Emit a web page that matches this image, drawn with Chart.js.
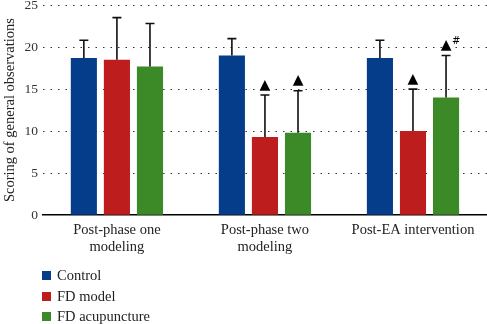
<!DOCTYPE html>
<html>
<head>
<meta charset="utf-8">
<script src="https://cdn.jsdelivr.net/npm/chart.js@4"></script>
<style>
  body { margin: 0; background: #fff; }
  #wrap { position: relative; width: 487px; height: 324px; }
  #legend { position: absolute; left: 42px; top: 265px; font: 14.5px "Liberation Serif", serif; color: #222; }
  #legend div { height: 20.5px; line-height: 20px; }
  #legend span { display: inline-block; width: 9px; height: 9px; margin-right: 6px; vertical-align: 0px; }
</style>
</head>
<body>
<div id="wrap">
  <canvas id="myChart" width="487" height="324"></canvas>
  <div id="legend"></div>
</div>
<script>
let categories = [["Post-phase one", "modeling"], ["Post-phase two", "modeling"], "Post-EA intervention"]
let seriesNames = ["Control", "FD model", "FD acupuncture"]
let colors = ["#063d8a", "#bd1d1d", "#3c8a27"]

let control = [18.7, 19.0, 18.7]
let controlSD = [2.1, 2.0, 2.1]
let fdModel = [18.5, 9.3, 10.0]
let fdModelSD = [5.0, 5.0, 5.0]
let fdAcu = [17.7, 9.8, 14.0]
let fdAcuSD = [5.1, 5.0, 5.0]

let marks = [["", "", ""], ["", "▲", "▲"], ["", "▲", "▲#"]]  // per dataset

const values = [control, fdModel, fdAcu]
const sds = [controlSD, fdModelSD, fdAcuSD]

// upper error bars plus significance marks
const errorBars = {
    id: "errorBars",
    afterDatasetsDraw(chart) {
        const ctx = chart.ctx;
        const y = chart.scales.y;
        ctx.save();
        chart.data.datasets.forEach((ds, i) => {
            const meta = chart.getDatasetMeta(i);
            meta.data.forEach((bar, j) => {
                const top = y.getPixelForValue(ds.data[j] + sds[i][j]);
                ctx.strokeStyle = "#111";
                ctx.lineWidth = 1.6;
                ctx.beginPath();
                ctx.moveTo(bar.x, bar.y);
                ctx.lineTo(bar.x, top);
                ctx.moveTo(bar.x - 4.5, top);
                ctx.lineTo(bar.x + 4.5, top);
                ctx.stroke();
                const m = marks[i][j];
                if (m) {
                    ctx.fillStyle = "#000";
                    ctx.font = "14px 'DejaVu Sans'";
                    ctx.textAlign = "center";
                    ctx.textBaseline = "bottom";
                    ctx.fillText("▲", bar.x, top - 3);
                    if (m.length > 1) {
                        ctx.font = "10px 'DejaVu Sans'";
                        ctx.textAlign = "left";
                        ctx.fillText(m.slice(1), bar.x + 6, top - 9);
                    }
                }
            });
        });
        ctx.restore();
    }
};

const data = {
    labels: categories,
    datasets: seriesNames.map((name, i) => ({
        label: name,
        data: values[i],
        backgroundColor: colors[i],
        categoryPercentage: 0.67,
        barPercentage: 0.79,
    }))
};

const config = {
    type: "bar",
    data: data,
    options: {
        responsive: false,
        animation: false,
        layout: { padding: { left: 1, right: 0, top: 5, bottom: 62 } },
        plugins: {
            legend: { display: false },
            tooltip: { enabled: false }
        },
        scales: {
            x: {
                grid: { display: false, drawTicks: false },
                border: { display: true, color: "#000", width: 1.5 },
                ticks: {
                    color: "#222",
                    padding: 6,
                    font: { family: "'Liberation Serif', serif", size: 14.5 }
                }
            },
            y: {
                min: 0,
                max: 25,
                afterFit: (scale) => { scale.paddingTop = 0; },
                ticks: {
                    stepSize: 5,
                    color: "#333",
                    padding: 5,
                    font: { family: "'Liberation Serif', serif", size: 13.5 }
                },
                grid: {
                    color: (c) => c.tick.value === 0 ? "rgba(0,0,0,0)" : "#333",
                    drawTicks: false,
                    lineWidth: 1
                },
                border: { display: false, dash: [1.5, 6] },
                title: {
                    display: true,
                    text: "Scoring of general observations",
                    color: "#222",
                    padding: { top: 0, bottom: 1 },
                    font: { family: "'Liberation Serif', serif", size: 14.5 }
                }
            }
        }
    },
    plugins: [errorBars]
};

const myChart = new Chart(document.getElementById("myChart"), config);

const legend = document.getElementById("legend");
seriesNames.forEach((name, i) => {
    const row = document.createElement("div");
    row.innerHTML = `<span style="background:${colors[i]}"></span>${name}`;
    legend.appendChild(row);
});
</script>
</body>
</html>
